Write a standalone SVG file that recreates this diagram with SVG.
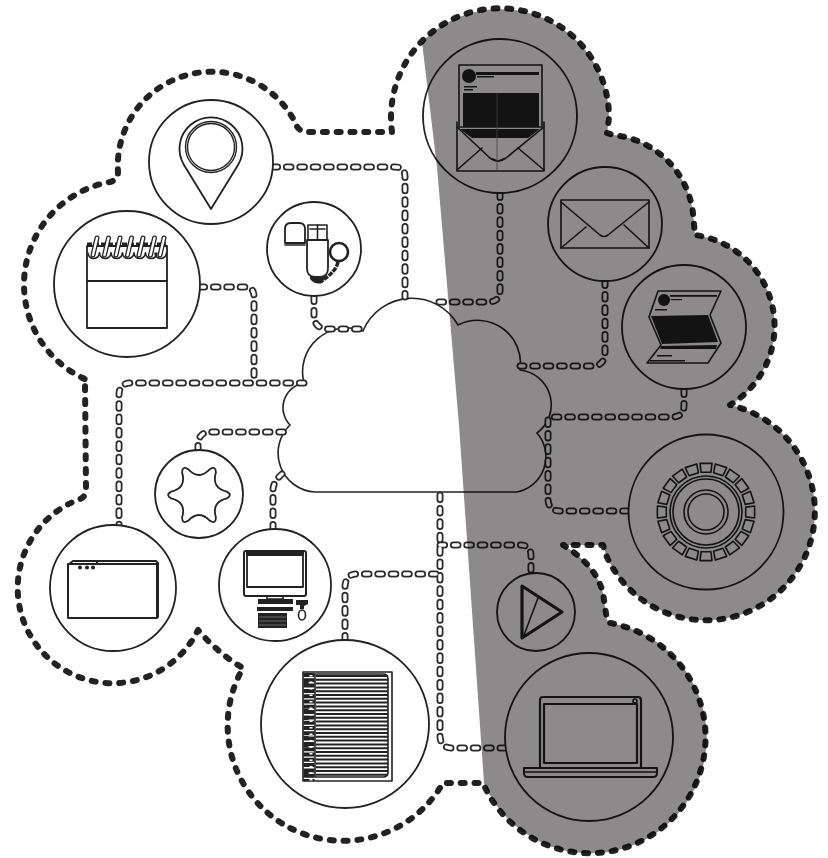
<svg xmlns="http://www.w3.org/2000/svg" xmlns:xlink="http://www.w3.org/1999/xlink" width="828" height="858" viewBox="0 0 828 858">
<style>
.ln{fill:none;stroke:#222;stroke-width:1.6;stroke-linejoin:round;stroke-linecap:round}
.node{fill:#fff;stroke:#222;stroke-width:1.8}
.blk{fill:#222;stroke:none}
.wh{fill:#fff;stroke:#222;stroke-width:1.6;stroke-linejoin:round}
.contour{fill:none;stroke:#222;stroke-width:6;stroke-linecap:round;stroke-dasharray:4 9.800;stroke-linejoin:round}
.co{fill:none;stroke:#2b2b2b;stroke-width:7;stroke-linecap:round;stroke-dasharray:4.600 8.800}
.ci{fill:none;stroke:#fff;stroke-width:3.500;stroke-linecap:round;stroke-dasharray:4.600 8.800}
#shade{fill:#8c8a8b;mix-blend-mode:multiply}
</style>
<defs>
<path id="c1" d="M273,167H395Q405,167 405,177V297"/>
<path id="c2" d="M200,287H245Q254,287 254,297V384"/>
<path id="c3" d="M314,297V317Q315,329 329,329H362"/>
<path id="c4" d="M304,383H131Q119,383 119,395V525"/>
<path id="c5" d="M198,450V444Q199,432 210,432H285"/>
<path id="c6" d="M273,529V490Q273,482 282,474"/>
<path id="c7" d="M345,640V588Q345,574 357,574H440"/>
<path id="c8" d="M440,495V735Q440,748 452,748H507"/>
<path id="c9" d="M440,545H520Q531,545 531,556V573"/>
<path id="c10" d="M500,193V290Q500,302 488,302H432"/>
<path id="c11" d="M605,281V352Q605,366 592,366H520"/>
<path id="c12" d="M684,390V405Q684,417 672,417H551"/>
<path id="c13" d="M548,420V498Q548,511 560,511H628"/>
<path id="tooth" class="wh" d="M-4.900,-39.700L4.900,-39.700L6,-48.600L-6,-48.600Z"/>
<g id="coil">
<path d="M-1,8L3,-9" fill="none" stroke="#222" stroke-width="5" stroke-linecap="round"/>
<path d="M-1,8L3,-9" fill="none" stroke="#fff" stroke-width="2.400" stroke-linecap="round"/>
<path class="ln" d="M-6,6a5.700,5.500 0 0 0 11.400,0"/>
</g>
</defs>
<rect width="828" height="858" fill="#fff"/>

<path class="contour" d="M392,132A109,109 0 1 1 609,118L607,133L613,135A89,89 0 0 1 693,213L695,235A92,92 0 0 1 730,405A109,109 0 1 1 606,555L603,545H563Q596,565 603,593L607,620L610,623A116,116 0 1 1 483,783H443A115.350,115.350 0 0 1 243,668Q220,655 198,630A95,95 0 1 1 80,499Q86,497 86,488L85,382L87,380A104,104 0 0 1 110,182Q118,180 118,172A94,94 0 0 1 295,122Q298,132 307,132Z"/>

<g id="cloud"><path class="wh" d="M315,492A39,39 0 0 1 290,425A25,25 0 0 1 304,383A44,44 0 0 1 363,331A53,53 0 0 1 458,325A43,43 0 0 1 520,370A35,35 0 0 1 537,433A36,36 0 0 1 517,492Z" stroke-width="1.8"/></g>

<g id="connectors">
<g class="co"><use xlink:href="#c1"/><use xlink:href="#c2"/><use xlink:href="#c3"/><use xlink:href="#c4"/><use xlink:href="#c5"/><use xlink:href="#c6"/><use xlink:href="#c7"/><use xlink:href="#c8"/><use xlink:href="#c9"/><use xlink:href="#c10"/><use xlink:href="#c11"/><use xlink:href="#c12"/><use xlink:href="#c13"/></g>
<g class="ci"><use xlink:href="#c1"/><use xlink:href="#c2"/><use xlink:href="#c3"/><use xlink:href="#c4"/><use xlink:href="#c5"/><use xlink:href="#c6"/><use xlink:href="#c7"/><use xlink:href="#c8"/><use xlink:href="#c9"/><use xlink:href="#c10"/><use xlink:href="#c11"/><use xlink:href="#c12"/><use xlink:href="#c13"/></g>
</g>

<g id="node-open-mail">
<circle class="node" cx="500" cy="116" r="77"/>
<rect class="ln" x="459" y="65" width="83" height="62"/>
<circle class="blk" cx="469" cy="76" r="7"/>
<rect class="blk" x="476" y="72" width="63" height="3"/>
<rect class="blk" x="477" y="76" width="17" height="1.500"/>
<rect class="blk" x="464" y="86" width="13" height="1.500"/>
<rect class="blk" x="464" y="89" width="9" height="1.500"/>
<rect class="blk" x="463" y="93" width="76" height="34"/>
<path class="blk" d="M460,129H540L528,138H472Z"/>
<path class="ln" d="M457,122V171H544V122"/>
<path class="ln" d="M457,127L490,158Q498,164 506,158L544,127"/>
<path class="ln" d="M457,170L482,148M544,170L518,148M493,159Q498,163 503,159"/>
<path d="M497,93V171" stroke="#777" stroke-width="0.8" fill="none"/>
</g>

<g id="node-envelope">
<circle class="node" cx="605" cy="224" r="57"/>
<rect class="ln" x="561" y="200" width="88" height="48"/>
<path class="ln" d="M561,202L600,235Q604,238 608,235L649,202M561,248L586,227M649,248L624,225"/>
</g>

<g id="node-catalog">
<circle class="node" cx="684" cy="327" r="62"/>
<path class="ln" d="M658,291H721L710,315L721,343L708,363H647L661,345L649,317Z"/>
<path class="blk" d="M651,316L708,315L718,342L662,344Z"/>
<circle class="blk" cx="664" cy="300" r="6"/>
<rect class="blk" x="670" y="295" width="47" height="1.800"/>
<rect class="blk" x="671" y="299" width="11" height="1.200"/>
<rect class="blk" x="655" y="309" width="12" height="1.500"/>
<path class="blk" d="M661,346L717,345L716,349L660,349Z"/>
<rect class="blk" x="657" y="355" width="15" height="1.500"/>
<rect class="blk" x="650" y="360" width="35" height="1.500"/>
</g>

<g id="node-gear">
<circle class="node" cx="706" cy="512" r="77.500"/>
<g transform="translate(706,512)">
<use xlink:href="#tooth"/><use xlink:href="#tooth" transform="rotate(18)"/><use xlink:href="#tooth" transform="rotate(36)"/><use xlink:href="#tooth" transform="rotate(54)"/><use xlink:href="#tooth" transform="rotate(72)"/><use xlink:href="#tooth" transform="rotate(90)"/><use xlink:href="#tooth" transform="rotate(108)"/><use xlink:href="#tooth" transform="rotate(126)"/><use xlink:href="#tooth" transform="rotate(144)"/><use xlink:href="#tooth" transform="rotate(162)"/><use xlink:href="#tooth" transform="rotate(180)"/><use xlink:href="#tooth" transform="rotate(198)"/><use xlink:href="#tooth" transform="rotate(216)"/><use xlink:href="#tooth" transform="rotate(234)"/><use xlink:href="#tooth" transform="rotate(252)"/><use xlink:href="#tooth" transform="rotate(270)"/><use xlink:href="#tooth" transform="rotate(288)"/><use xlink:href="#tooth" transform="rotate(306)"/><use xlink:href="#tooth" transform="rotate(324)"/><use xlink:href="#tooth" transform="rotate(342)"/>
<circle class="ln" r="36"/><circle class="ln" r="33"/><circle class="ln" r="22"/><circle class="ln" r="18"/>
</g>
</g>

<g id="node-play">
<circle class="node" cx="536" cy="612" r="39"/>
<path class="ln" style="stroke-width:3.200" d="M522,586L562,612L522,638Z"/>
<path class="ln" d="M538,598L524,635"/>
</g>

<g id="node-laptop">
<circle class="node" cx="589" cy="737" r="84"/>
<path class="ln" style="stroke-width:2.200" d="M540,768V700Q540,697 543,697H638Q641,697 641,700V768"/>
<rect class="ln" style="stroke-width:2.200" x="544" y="704" width="93" height="59"/>
<path class="ln" style="stroke-width:2" d="M524,768H657V773Q657,777 653,777H528Q524,777 524,773Z"/>
<path class="ln" d="M525,772H656"/>
<circle class="ln" cx="635" cy="701" r="2"/>
</g>

<g id="node-book">
<circle class="node" cx="345" cy="724" r="84"/>
<path class="ln" d="M303,672H392V781H303Z"/>
<path class="ln" d="M315,674H383Q388,674 388,679V772Q388,777 383,777H315Z"/>
<line x1="352" y1="675" x2="352" y2="777" stroke="#222" stroke-width="72" stroke-dasharray="2 1.800"/>
<line x1="309" y1="673" x2="309" y2="781" stroke="#222" stroke-width="11" stroke-dasharray="4 1.300"/>
<line x1="306" y1="673" x2="306" y2="781" stroke="#222" stroke-width="5" stroke-dasharray="2 7"/>
<line x1="311" y1="675" x2="311" y2="781" stroke="#fff" stroke-width="3" stroke-dasharray="1.500 5"/>
</g>

<g id="node-computer">
<circle class="node" cx="275" cy="585" r="56"/>
<rect class="ln" style="stroke-width:2" x="244" y="551" width="62" height="45" rx="2"/>
<rect class="ln" style="stroke-width:1.800" x="247" y="555" width="56" height="32"/>
<rect class="blk" x="246" y="552" width="58" height="3"/>
<rect class="ln" x="267" y="596" width="16" height="3"/>
<rect class="blk" x="258" y="599" width="35" height="5"/>
<rect class="blk" x="257" y="607" width="36" height="4"/>
<rect class="blk" x="258" y="613" width="29" height="15"/>
<path d="M259,617H286M259,621H286M259,625H286" stroke="#888" stroke-width="0.700"/>
<path class="blk" d="M296,600H308V604L304,606V609H300V605H296Z"/>
<ellipse class="wh" cx="302" cy="615" rx="3.500" ry="5"/>
</g>

<g id="node-folder">
<circle class="node" cx="113" cy="588" r="63"/>
<rect class="ln" style="stroke-width:2" x="68" y="564" width="89" height="54"/>
<path class="ln" style="stroke-width:2" d="M69,564L73,561H97V564M97,561H156L158,563V617"/>
<circle class="blk" cx="80" cy="567.500" r="2"/><circle class="blk" cx="87" cy="567.500" r="2"/><circle class="blk" cx="93" cy="567.500" r="2"/>
</g>

<g id="node-star">
<circle class="node" cx="199" cy="494" r="44"/>
<path class="ln" transform="translate(199,495)" style="stroke-width:1.800" d="M27.800,3.400Q12.300,7.100 16.900,22.400Q17,29.400 10.900,25.800Q0,14.200 -10.900,25.800Q-17,29.400 -16.900,22.400Q-12.300,7.100 -27.800,3.400Q-34,0 -27.800,-3.400Q-12.300,-7.100 -16.900,-22.400Q-17,-29.400 -10.900,-25.800Q0,-14.200 10.900,-25.800Q17,-29.400 16.900,-22.400Q12.300,-7.100 27.800,-3.400Q34,0 27.800,3.400Z"/>
</g>

<g id="node-calendar">
<circle class="node" cx="127" cy="284" r="73"/>
<rect class="ln" style="stroke-width:1.800" x="87" y="246" width="80" height="82"/>
<path class="ln" style="stroke-width:1.800" d="M87,281H167"/>
<path d="M87,244H166" stroke="#222" stroke-width="3" stroke-dasharray="5 2" fill="none"/>
<use xlink:href="#coil" x="94" y="247"/><use xlink:href="#coil" x="105.500" y="247"/><use xlink:href="#coil" x="117" y="247"/><use xlink:href="#coil" x="128.500" y="247"/><use xlink:href="#coil" x="140" y="247"/><use xlink:href="#coil" x="151.500" y="247"/><use xlink:href="#coil" x="161" y="247"/>
</g>

<g id="node-pin">
<circle class="node" cx="211" cy="162" r="62"/>
<path class="ln" style="stroke-width:1.800" d="M211,209L184,165A31.500,31.500 0 1 1 238,165Z"/>
<circle class="ln" cx="211" cy="147" r="25.500" style="stroke-width:1.400"/>
<circle class="ln" cx="211" cy="147" r="23.500" style="stroke-width:1.400"/>
</g>

<g id="node-usb">
<circle class="node" cx="314" cy="249" r="47"/>
<path class="ln" style="stroke-width:1.800" d="M285,243V229Q285,223 291,223H299Q305,223 305,229V243Z"/>
<path class="ln" d="M285,245H305"/>
<rect class="ln" x="308" y="225" width="19" height="15"/>
<path class="ln" d="M317.500,225V240M310,229H325"/>
<path class="ln" style="stroke-width:1.800" d="M307,240H328V268Q328,277 320,277H315Q307,277 307,268Z"/>
<circle class="ln" style="stroke-width:2.600" cx="339" cy="252" r="9"/>
<path d="M338,262Q336,272 320,282" fill="none" stroke="#222" stroke-width="3.500" stroke-dasharray="5 1"/>
<path class="blk" d="M310,276Q318,279 326,276L322,283Q315,285 310,279Z"/>
</g>

<path id="shade" d="M422,42A109,109 0 0 1 609,118L607,133L613,135A89,89 0 0 1 693,213L695,235A92,92 0 0 1 730,405A109,109 0 1 1 606,555L603,545H563Q596,565 603,593L607,620L610,623A116,116 0 1 1 484,783L459,425L437,167Z"/>
</svg>
